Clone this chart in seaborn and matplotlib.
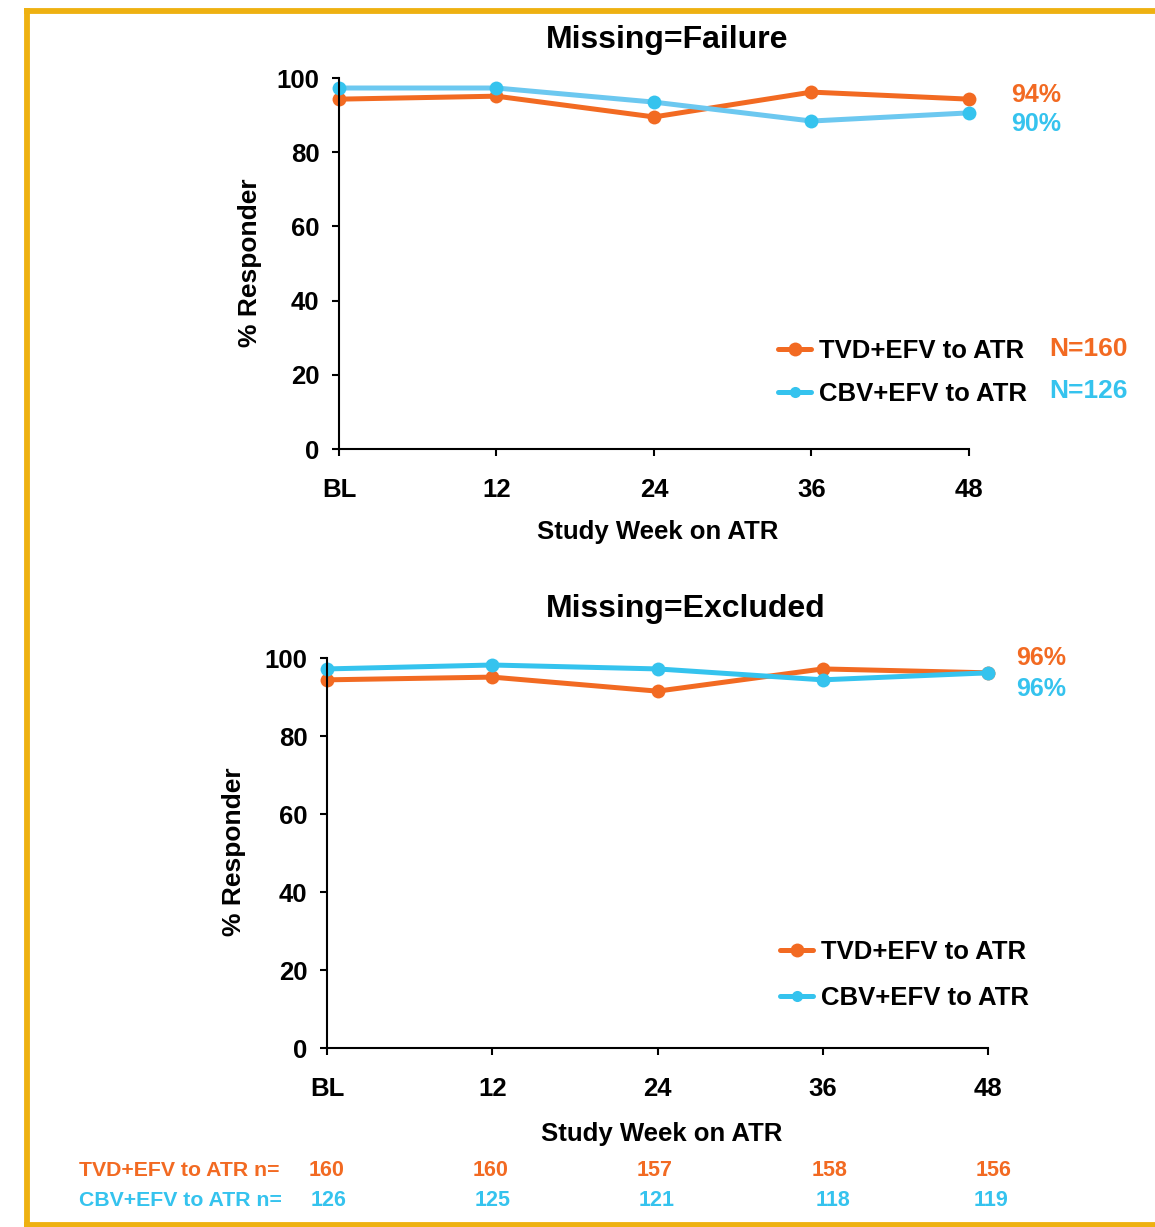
import matplotlib
matplotlib.use("Agg")
import matplotlib.pyplot as plt
import seaborn as sns
import pandas as pd
from matplotlib.lines import Line2D

weeks = [0, 12, 24, 36, 48]
week_labels = ["BL", "12", "24", "36", "48"]
arms = ["TVD+EFV to ATR", "CBV+EFV to ATR"]

fail_tvd = [94.3, 95.1, 89.5, 96.2, 94.3]
fail_cbv = [97.3, 97.3, 93.5, 88.4, 90.6]
excl_tvd = [94.4, 95.1, 91.5, 97.2, 96.2]
excl_cbv = [97.2, 98.2, 97.2, 94.4, 96.2]

end_fail = ["94%", "90%"]
end_excl = ["96%", "96%"]
total_n = ["N=160", "N=126"]
n_tvd = ["160", "160", "157", "158", "156"]
n_cbv = ["126", "125", "121", "118", "119"]

ORANGE = "#F26A22"
BLUE = "#35C3EE"
BLUE_LINE_TOP = "#6CC8F0"
GOLD = "#EEB111"

sns.set_style("white")
plt.rcParams["font.family"] = ["Liberation Sans", "DejaVu Sans"]
plt.rcParams["font.weight"] = "bold"
plt.rcParams["text.color"] = "black"

fig = plt.figure(figsize=(11.55, 12.27), dpi=100)
W, H = 1155, 1227


def fx(px):
    return px / W


def fy(py):
    return 1 - py / H


def ax_rect(l, r, t, b):
    return [l / W, 1 - b / H, (r - l) / W, (b - t) / H]


def make_df(tvd, cbv):
    rows = []
    for a, vals in zip(arms, [tvd, cbv]):
        for w, v in zip(weeks, vals):
            rows.append({"week": w, "pct": v, "arm": a})
    return pd.DataFrame(rows)


def style_axes(ax):
    ax.set_xlim(0, 48)
    ax.set_ylim(0, 100)
    ax.set_xticks(weeks)
    ax.set_xticklabels(week_labels)
    ax.set_yticks([0, 20, 40, 60, 80, 100])
    for s in ["top", "right"]:
        ax.spines[s].set_visible(False)
    for s in ["left", "bottom"]:
        ax.spines[s].set_color("black")
        ax.spines[s].set_linewidth(1.5)
    ax.tick_params(axis="both", which="both", direction="out", length=5,
                   width=1.5, colors="black", labelsize=18.5,
                   bottom=True, left=True, labelcolor="black")
    ax.tick_params(axis="x", pad=16)
    ax.tick_params(axis="y", pad=9)
    for lab in ax.get_xticklabels() + ax.get_yticklabels():
        lab.set_fontweight("bold")
    ax.set_xlabel("")
    ax.set_ylabel("")
    ax.grid(False)


def legend(ax, anchor, spacing):
    handles = [Line2D([], [], color=ORANGE, lw=3.6, marker="o", markersize=10, markeredgewidth=0),
               Line2D([], [], color=BLUE, lw=3.6, marker="o", markersize=8, markeredgewidth=0)]
    leg = ax.legend(handles, arms, loc="center left", bbox_to_anchor=anchor,
                    frameon=False, fontsize=18.5, handlelength=1.3, handletextpad=0.3,
                    borderpad=0, borderaxespad=0, labelspacing=spacing)
    for t in leg.get_texts():
        t.set_fontweight("bold")
        t.set_color("black")
    return leg


# ---------- Top chart ----------
ax1 = fig.add_axes(ax_rect(339, 969, 78, 449))
df1 = make_df(fail_tvd, fail_cbv)
sns.lineplot(data=df1, x="week", y="pct", hue="arm", hue_order=arms,
             palette={arms[0]: ORANGE, arms[1]: BLUE_LINE_TOP},
             marker="o", markersize=10, markeredgewidth=0, linewidth=3.6,
             legend=False, ax=ax1, clip_on=False)
for line in ax1.get_lines():
    if line.get_color() == BLUE_LINE_TOP:
        line.set_markerfacecolor(BLUE)
style_axes(ax1)
fig.text(fx(667), fy(40), "Missing=Failure", ha="center", va="center",
         fontsize=23, fontweight="bold")
fig.text(fx(250), fy(263), "% Responder", rotation=90, ha="center", va="center",
         fontsize=19, fontweight="bold")
fig.text(fx(658), fy(532), "Study Week on ATR", ha="center", va="center",
         fontsize=18.5, fontweight="bold")
legend(ax1, ((778 - 339) / 630, (449 - 372.5) / 371), 0.72)
for txt, col, yy in zip(total_n, [ORANGE, BLUE], [349, 391]):
    fig.text(fx(1049), fy(yy), txt, color=col, fontsize=19, fontweight="bold",
             ha="left", va="center")
for txt, col, yy in zip(end_fail, [ORANGE, BLUE], [95, 124]):
    fig.text(fx(1011), fy(yy), txt, color=col, fontsize=18, fontweight="bold",
             ha="left", va="center")

# ---------- Bottom chart ----------
ax2 = fig.add_axes(ax_rect(327, 988, 658, 1048))
df2 = make_df(excl_tvd, excl_cbv)
sns.lineplot(data=df2, x="week", y="pct", hue="arm", hue_order=arms,
             palette={arms[0]: ORANGE, arms[1]: BLUE},
             marker="o", markersize=10, markeredgewidth=0, linewidth=3.6,
             legend=False, ax=ax2, clip_on=False)
style_axes(ax2)
fig.text(fx(686), fy(609), "Missing=Excluded", ha="center", va="center",
         fontsize=23, fontweight="bold")
fig.text(fx(234), fy(852), "% Responder", rotation=90, ha="center", va="center",
         fontsize=19, fontweight="bold")
fig.text(fx(662), fy(1134), "Study Week on ATR", ha="center", va="center",
         fontsize=18.5, fontweight="bold")
legend(ax2, ((780 - 327) / 661, (1048 - 975) / 390), 0.86)
for txt, col, yy in zip(end_excl, [ORANGE, BLUE], [658, 689]):
    fig.text(fx(1016), fy(yy), txt, color=col, fontsize=18, fontweight="bold",
             ha="left", va="center")

# ---------- n table ----------
fig.text(fx(79), fy(1170), "TVD+EFV to ATR n=", color=ORANGE, fontsize=15.3,
         fontweight="bold", ha="left", va="center")
fig.text(fx(79), fy(1200), "CBV+EFV to ATR n=", color=BLUE, fontsize=15.3,
         fontweight="bold", ha="left", va="center")
n_x_tvd = [327, 491, 655, 830, 994]
n_x_cbv = [329, 493, 657, 833, 991]
for xx, s in zip(n_x_tvd, n_tvd):
    fig.text(fx(xx), fy(1170), s, color=ORANGE, fontsize=15.5, fontweight="bold",
             ha="center", va="center")
for xx, s in zip(n_x_cbv, n_cbv):
    fig.text(fx(xx), fy(1200), s, color=BLUE, fontsize=15.5, fontweight="bold",
             ha="center", va="center")

# ---------- gold border ----------
for xs, ys in [([26.5, 26.5], [8, 1227]), ([24, W], [10.5, 10.5]), ([24, W], [1224.5, 1224.5])]:
    fig.add_artist(Line2D([fx(x) for x in xs], [fy(y) for y in ys], color=GOLD, lw=4.2,
                          solid_capstyle="butt", transform=fig.transFigure))

fig.savefig("out.png", dpi=100)
